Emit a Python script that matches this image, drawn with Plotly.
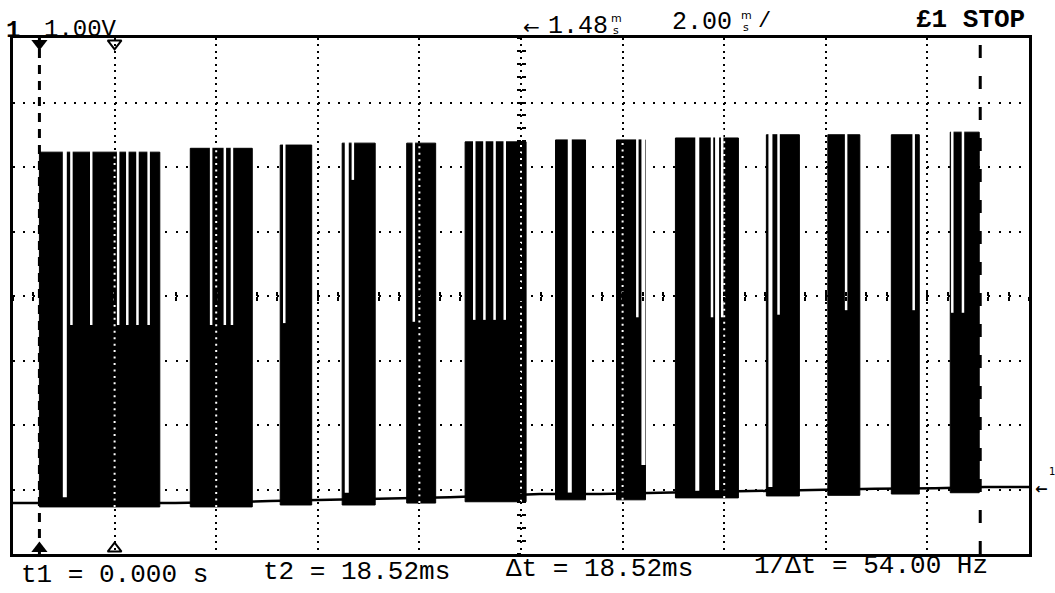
import plotly.graph_objects as go

# ---------------- scope settings ----------------
ms_per_div = 2.00          # time base
volt_per_div = 1.00        # channel 1 sensitivity
n_xdiv, n_ydiv = 10, 8
screen_left_ms = -0.52     # time at the left edge of the screen (t1 = 0)
screen_bottom_v = -0.92    # volts at the bottom edge of the screen
delay_ms = 1.48            # time reference marker
t1_ms = 0.000
t2_ms = 18.52

# ---------------- signal: bursts of a fast carrier ----------------
burst_start = [0.00, 2.97, 4.74, 5.96, 7.23, 8.38, 10.16, 11.36, 12.52, 14.31, 15.52, 16.77, 17.93]
burst_end   = [2.37, 4.19, 5.36, 6.61, 7.80, 9.58, 10.75, 11.93, 13.76, 14.96, 16.15, 17.32, 18.50]
burst_high  = [5.31, 5.37, 5.42, 5.45, 5.45, 5.47, 5.50, 5.50, 5.53, 5.58, 5.58, 5.58, 5.62]
burst_low   = [-0.19, -0.19, -0.16, -0.16, -0.13, -0.11, -0.08, -0.08, -0.05, -0.02, -0.01, 0.01, 0.03]

# white gaps inside the bursts: time and the level where the gap ends
gap_time  = [0.50, 0.63, 1.02, 1.55, 1.73, 1.93, 2.15,
             3.38, 3.65, 3.79,
             4.82,
             6.05, 6.17,
             7.37,
             8.56, 8.76, 8.96, 9.16,
             10.44,
             11.77, 11.89,
             12.95, 13.24, 13.34, 13.44,
             14.39, 14.55,
             15.88,
             17.21,
             17.97, 18.18]
gap_floor = [-0.04, 2.63, 2.63, 2.63, 2.63, 2.63, 2.63,
             2.63, 2.63, 2.63,
             2.66,
             0.03, 4.88,
             2.68,
             2.71, 2.71, 2.71, 2.71,
             0.03,
             2.75, 0.46,
             0.04, 2.75, 0.07, 2.75,
             0.12, 2.79,
             2.86,
             2.86,
             2.82, 2.82]

# idle level between bursts
base_time = [-0.52, 2.67, 4.54, 5.68, 6.90, 8.08, 9.85, 11.04, 12.22, 14.03, 15.23, 16.45, 17.63, 18.61, 19.48]
base_volt = [-0.13, -0.13, -0.10, -0.08, -0.07, -0.04, 0.01, 0.01, 0.03, 0.06, 0.07, 0.09, 0.10, 0.12, 0.12]

# ---------------- geometry ----------------
W, H = 1055, 593
L, R, T, B = 13, 1029, 38, 554

x_range = [screen_left_ms, screen_left_ms + n_xdiv * ms_per_div]
y_range = [screen_bottom_v, screen_bottom_v + n_ydiv * volt_per_div]


def px(xp):
    return (xp - L) / (R - L)


def py(yp):
    return (B - yp) / (B - T)


fig = go.Figure()

# bursts (filled black blocks)
bx, by = [], []
for s, e, lo, hi in zip(burst_start, burst_end, burst_low, burst_high):
    bx += [s, s, e, e, s, None]
    by += [lo, hi, hi, lo, lo, None]
fig.add_trace(go.Scatter(x=bx, y=by, mode="lines", fill="toself", fillcolor="black",
                         line=dict(color="black", width=1), hoverinfo="skip"))


def top_at(t):
    for s, e, hi in zip(burst_start, burst_end, burst_high):
        if s <= t <= e:
            return hi
    return max(burst_high)


sx, sy, lx, ly = [], [], [], []
for g, f in zip(gap_time, gap_floor):
    top = top_at(g) + 0.15
    if f < 1.0:
        lx += [g, g, None]; ly += [top, f, None]
    else:
        sx += [g, g, None]; sy += [top, f, None]
fig.add_trace(go.Scatter(x=sx, y=sy, mode="lines", line=dict(color="white", width=2.5), hoverinfo="skip"))
fig.add_trace(go.Scatter(x=lx, y=ly, mode="lines", line=dict(color="white", width=4), hoverinfo="skip"))

# graticule shown inverted where it crosses a burst
ix, iy = [], []
for k in range(1, n_xdiv):
    g = screen_left_ms + k * ms_per_div
    for s, e, lo, hi in zip(burst_start, burst_end, burst_low, burst_high):
        if s + 0.08 < g < e - 0.08:
            ix += [g, g, None]; iy += [lo, hi, None]
fig.add_trace(go.Scatter(x=ix, y=iy, mode="lines",
                         line=dict(color="white", width=2, dash="2px,4.45px"), hoverinfo="skip"))

# idle baseline
fig.add_trace(go.Scatter(x=base_time, y=base_volt, mode="lines",
                         line=dict(color="black", width=2.5), hoverinfo="skip"))

# cursors
fig.add_trace(go.Scatter(x=[t1_ms, t1_ms], y=y_range, mode="lines",
                         line=dict(color="black", width=3, dash="9px,7px"), hoverinfo="skip"))
fig.add_trace(go.Scatter(x=[t2_ms, t2_ms], y=y_range, mode="lines",
                         line=dict(color="black", width=3, dash="13px,18px"), hoverinfo="skip"))
fig.add_trace(go.Scatter(x=[t1_ms, t1_ms], y=[y_range[1] - 0.085, y_range[0] + 0.085], mode="markers",
                         marker=dict(symbol=["triangle-down", "triangle-up"], size=14, color="black"),
                         cliponaxis=False, hoverinfo="skip"))
fig.add_trace(go.Scatter(x=[delay_ms, delay_ms], y=[y_range[1] - 0.085, y_range[0] + 0.085], mode="markers",
                         marker=dict(symbol=["triangle-down-open", "triangle-up-open"], size=12,
                                     color="black", line=dict(width=2, color="black")),
                         cliponaxis=False, hoverinfo="skip"))

# dummy traces so the centre axes (with 1/5-division ticks) get drawn
for xa, ya in [("x2", "y"), ("x3", "y"), ("x", "y2"), ("x", "y3")]:
    fig.add_trace(go.Scatter(x=[x_range[0]], y=[y_range[0]], xaxis=xa, yaxis=ya, mode="markers",
                             marker=dict(opacity=0), hoverinfo="skip"))

frame = dict(showline=True, mirror=True, linewidth=3, linecolor="black",
             showticklabels=False, ticks="", zeroline=False, showgrid=True,
             gridcolor="black", gridwidth=2)
centre = dict(showline=False, showgrid=False, zeroline=False, showticklabels=False,
              ticklen=4, tickwidth=2, tickcolor="black", anchor="free", position=0.5)

fig.update_layout(
    width=W, height=H,
    margin=dict(l=L, r=W - R, t=T, b=H - B, pad=0),
    paper_bgcolor="white", plot_bgcolor="white",
    showlegend=False,
    xaxis=dict(range=x_range, tick0=screen_left_ms, dtick=ms_per_div, griddash="2px,4.45px", **frame),
    yaxis=dict(range=y_range, tick0=screen_bottom_v, dtick=volt_per_div, griddash="2px,8.16px", **frame),
    xaxis2=dict(overlaying="x", range=x_range, tick0=screen_left_ms, dtick=ms_per_div / 5, ticks="outside", **centre),
    xaxis3=dict(overlaying="x", range=x_range, tick0=screen_left_ms, dtick=ms_per_div / 5, ticks="inside", **centre),
    yaxis2=dict(overlaying="y", range=y_range, tick0=screen_bottom_v, dtick=volt_per_div / 5, ticks="outside", **centre),
    yaxis3=dict(overlaying="y", range=y_range, tick0=screen_bottom_v, dtick=volt_per_div / 5, ticks="inside", **centre),
)

MONO = "Liberation Mono"
ann = []


def text(s, x, y, size, xanchor="left", bold=False, family=MONO):
    ann.append(dict(text=("<b>%s</b>" % s) if bold else s, x=px(x), y=py(y), xref="paper", yref="paper",
                    xanchor=xanchor, yanchor="middle", showarrow=False,
                    font=dict(family=family, size=size, color="black")))


# header
text("1", 13, 31, 24, "center", bold=True)
text("%.2fV" % volt_per_div, 42, 30, 24)
text("←", 531, 27, 20, "center", family="DejaVu Sans")
text("%.2f" % delay_ms, 546, 27, 25)
text("m", 616, 19, 11, "center", family="DejaVu Sans")
text("s", 616, 31, 11, "center", family="DejaVu Sans")
text("%.2f" % ms_per_div, 670, 23, 25)
text("m", 746, 16, 11, "center", family="DejaVu Sans")
text("s", 746, 28, 11, "center", family="DejaVu Sans")
text("/", 764, 22, 22, "center")
text("£1 STOP", 1027, 20, 26, "right", bold=True)

# cursor read-out
dt = t2_ms - t1_ms
text("t1 = %.3f s" % t1_ms, 19, 575, 26)
text("t2 = %.2fms" % t2_ms, 261, 572, 26)
text("Δt = %.2fms" % dt, 504, 569, 26)
text("1/Δt = %.2f Hz" % (1000.0 / dt), 752, 566, 26)

# ground marker
text("←", 1041, 489, 15, "center", bold=True, family="DejaVu Sans")
text("1", 1052, 472, 10, "center", family="DejaVu Sans")

fig.update_layout(annotations=ann)

fig.write_html("out.html", config={"displayModeBar": False},
               post_script="document.body.style.margin='0';document.body.style.overflow='hidden';")
